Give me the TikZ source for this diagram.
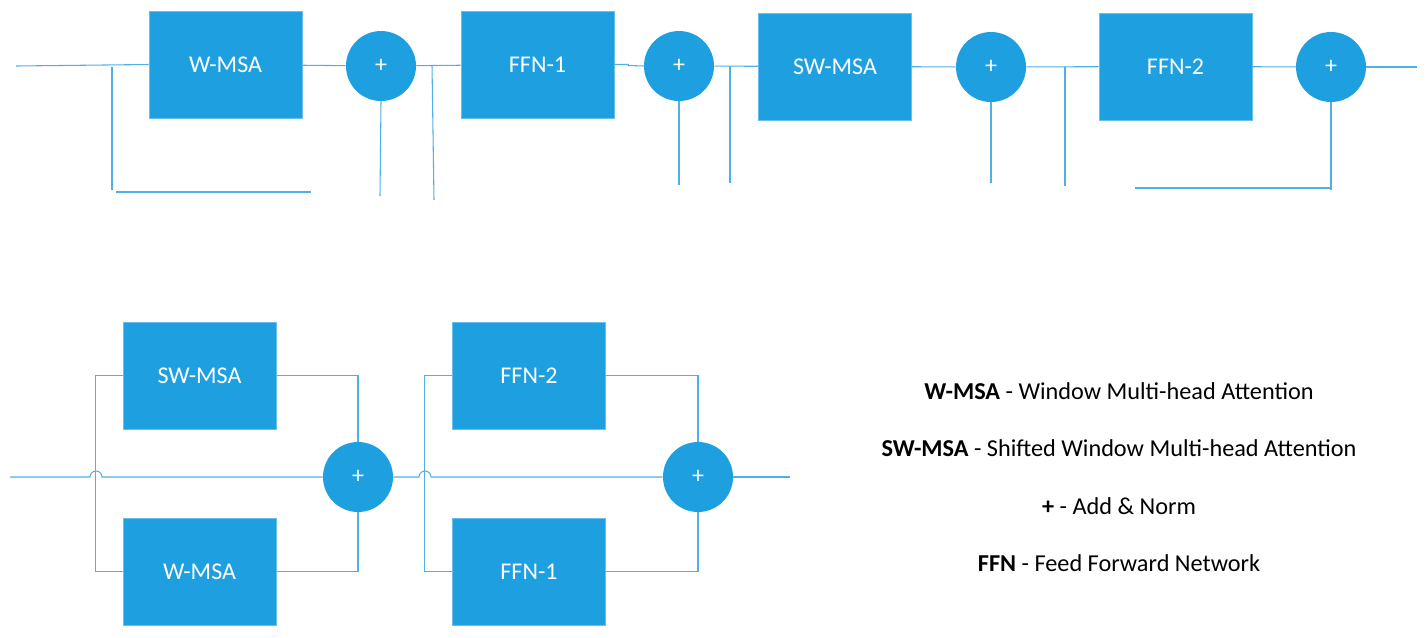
\documentclass[tikz,border=0pt]{standalone}
\usepackage{fontspec}
\setmainfont{Carlito}
\usepackage{tikz}
\usetikzlibrary{positioning,calc}
\definecolor{boxblue}{RGB}{30,160,224}
\definecolor{edgeblue}{RGB}{110,190,235}
\definecolor{wireblue}{RGB}{80,176,230}

\begin{document}
\begin{tikzpicture}[x=0.75pt,y=-0.75pt,
  blk/.style={rectangle, fill=boxblue, draw=edgeblue, line width=0.6pt, minimum width=114.75pt, minimum height=80.25pt, text=white, font=\fontsize{18}{21}\selectfont},
  add/.style={circle, fill=boxblue, minimum size=52.5pt, inner sep=0pt, text=white, font=\fontsize{18}{21}\selectfont},
  wire/.style={wireblue, line width=0.8pt},
  legend/.style={font=\fontsize{18.2}{21}\selectfont}]

 \useasboundingbox (0,0) rectangle (1427,637);

 \node[blk] (wmsa) at (225.5,64.5) {W-MSA};
 \node[add] (a1) at (381,66) {+};
 \node[blk] (ffna) at (537.5,64.5) {FFN-1};
 \node[add] (a2) at (679,66) {+};
 \node[blk] (swmsa) at (835,66.5) {SW-MSA};
 \node[add] (a3) at (991,67) {+};
 \node[blk] (ffnb) at (1175.5,66.5) {FFN-2};
 \node[add] (a4) at (1331,67) {+};

 \coordinate (in) at (16,66);
 \coordinate (out) at (1417,67);
 \draw[wire] (in) -- (wmsa.west);
 \draw[wire] (wmsa) -- (a1);
 \draw[wire] (a1) -- (ffna);
 \draw[wire] (ffna.east) -- ++(14,0) -- ++(0,1) -- (a2.west);
 \draw[wire] (a2) -- (swmsa);
 \draw[wire] (swmsa) -- (a3);
 \draw[wire] (a3) -- (ffnb);
 \draw[wire] (ffnb) -- (a4);
 \draw[wire] (a4) -- (out);

 \coordinate (s1) at (112,67);   \coordinate (e1) at (112,190);
 \coordinate (s2) at (116,192);  \coordinate (e2) at (311,192);
 \coordinate (e3) at (380,196);
 \coordinate (s4) at (432,65);   \coordinate (e4) at (434,200);
 \coordinate (e5) at (679,185);
 \coordinate (s6) at (730,66);   \coordinate (e6) at (730,183);
 \coordinate (e7) at (991,183);
 \coordinate (s8) at (1065,67);  \coordinate (e8) at (1065,186);
 \coordinate (s9) at (1135,188); \coordinate (e9) at (1330,188);
 \coordinate (e10) at (1331,190);
 \draw[wire] (s1) -- (e1);
 \draw[wire] (s2) -- (e2);
 \draw[wire] (a1.south) -- (e3);
 \draw[wire] (s4) -- (e4);
 \draw[wire] (a2.south) -- (e5);
 \draw[wire] (s6) -- (e6);
 \draw[wire] (a3.south) -- (e7);
 \draw[wire] (s8) -- (e8);
 \draw[wire] (s9) -- (e9);
 \draw[wire] (a4.south) -- (e10);

 \node[blk] (swmsab) at (199.5,375.5) {SW-MSA};
 \node[blk] (wmsab) at (199.5,571.5) {W-MSA};
 \node[add] (a5) at (358,477) {+};
 \node[blk] (ffnbb) at (529,375.5) {FFN-2};
 \node[blk] (ffnab) at (529,571.5) {FFN-1};
 \node[add] (a6) at (698,477) {+};

 \coordinate (in2) at (10,477);
 \coordinate (out2) at (790,477);
 \draw[wire] (in2) -- (90,477) arc[start angle=180, end angle=0, radius=4.5pt] -- (a5.west);
 \draw[wire] (a5.east) -- (419,477) arc[start angle=180, end angle=0, radius=4.5pt] -- (a6.west);
 \draw[wire] (a6) -- (out2);

 \draw[wire] (swmsab.west) -- ++(-27,0) |- (wmsab.west);
 \draw[wire] (swmsab.east) -| (a5.north);
 \draw[wire] (wmsab.east) -| (a5.south);
 \draw[wire] (ffnbb.west) -- ++(-28,0) |- (ffnab.west);
 \draw[wire] (ffnbb.east) -| (a6.north);
 \draw[wire] (ffnab.east) -| (a6.south);

 \node[legend] (lwmsa) at (1119,391) {\textbf{W-MSA} - Window Multi-head Attention};
 \node[legend] (lswmsa) at (1119,448) {\textbf{SW-MSA} - Shifted Window Multi-head Attention};
 \node[legend] (ladd) at (1119,506) {\textbf{+} - Add \& Norm};
 \node[legend] (lffn) at (1119,563) {\textbf{FFN} - Feed Forward Network};

\end{tikzpicture}
\end{document}
